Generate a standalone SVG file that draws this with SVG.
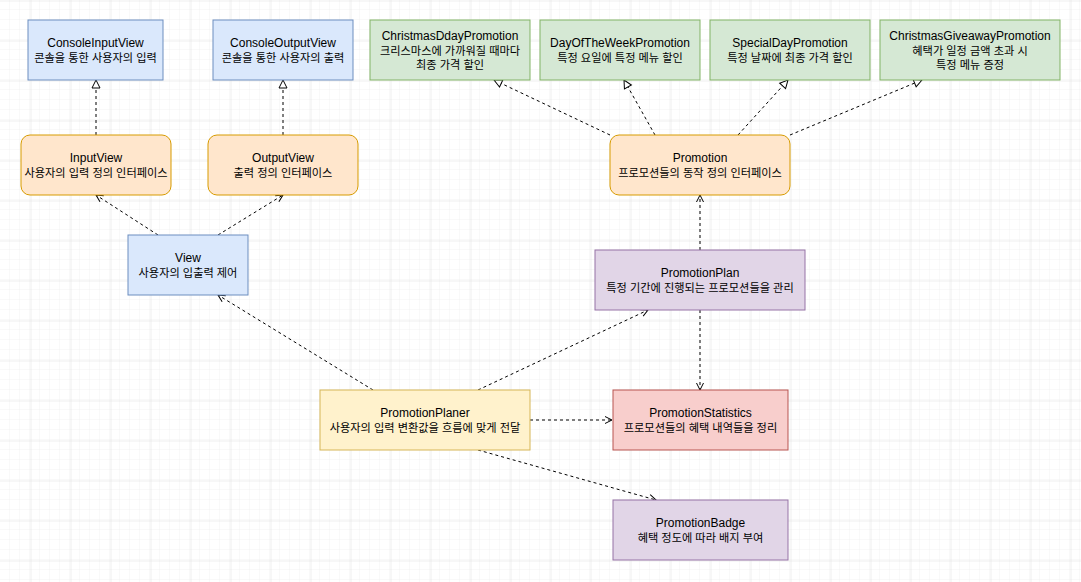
<svg xmlns="http://www.w3.org/2000/svg" width="1081" height="582" viewBox="0 0 1081 582">
  <style>
    .box { stroke-width: 1; }
    .blue { fill: #dae8fc; stroke: #6c8ebf; }
    .orange { fill: #ffe6cc; stroke: #d79b00; }
    .green { fill: #d5e8d4; stroke: #82b366; }
    .purple { fill: #e1d5e7; stroke: #9673a6; }
    .red { fill: #f8cecc; stroke: #b85450; }
    .yellow { fill: #fff2cc; stroke: #d6b656; }
    text { font-family: "Liberation Sans", "Noto Sans CJK KR", sans-serif; font-size: 12px; fill: #000000; text-anchor: middle; }
    text.ko { font-size: 11.2px; }
    .edge { fill: none; stroke: #000000; stroke-width: 1; stroke-dasharray: 3 3; }
    .real { marker-end: url(#tri); }
    .dep { marker-end: url(#open); }
  </style>
  <defs>
    <pattern id="minor" width="10" height="10" patternUnits="userSpaceOnUse">
      <path d="M10,0 V10 M0,10 H10" fill="none" stroke="#f2f2f2" stroke-width="1"/>
    </pattern>
    <pattern id="major" x="30.5" y="0.5" width="40" height="40" patternUnits="userSpaceOnUse">
      <path d="M0,0 V40 M0,0 H40" fill="none" stroke="#dedede" stroke-width="1"/>
    </pattern>
    <marker id="tri" markerUnits="userSpaceOnUse" markerWidth="12" markerHeight="12" viewBox="-1 -6 10 12" refX="8" refY="0" orient="auto">
      <path d="M0,-4 L8,0 L0,4 Z" fill="#ffffff" stroke="#000000" stroke-width="1" stroke-dasharray="none"/>
    </marker>
    <marker id="open" markerUnits="userSpaceOnUse" markerWidth="12" markerHeight="12" viewBox="-1 -6 10 12" refX="7" refY="0" orient="auto">
      <path d="M0,-3.5 L7,0 L0,3.5" fill="none" stroke="#000000" stroke-width="1" stroke-dasharray="none"/>
    </marker>
  </defs>

  <rect x="0" y="0" width="1081" height="582" fill="#ffffff"/>
  <rect x="0" y="0" width="1081" height="582" fill="url(#minor)"/>
  <rect x="0" y="0" width="1081" height="582" fill="url(#major)"/>

  <g id="connectors">
    <path class="edge real" d="M96,135 L96,80"/>
    <path class="edge real" d="M283,135 L283,80"/>
    <path class="edge dep" d="M158,235 L96,195"/>
    <path class="edge dep" d="M218,235 L283,195"/>
    <path class="edge real" d="M610,135 L494,80"/>
    <path class="edge real" d="M655,135 L624,80"/>
    <path class="edge real" d="M738,135 L788,80"/>
    <path class="edge real" d="M790,135 L922,80"/>
    <path class="edge dep" d="M700,250 L700,195"/>
    <path class="edge dep" d="M700,310 L700,390"/>
    <path class="edge dep" d="M478,390 L648,310"/>
    <path class="edge dep" d="M530,420 L612,420"/>
    <path class="edge dep" d="M478,450 L656,500"/>
    <path class="edge dep" d="M373,390 L218,295"/>
  </g>

  <g id="ConsoleInputView">
    <rect class="box blue" x="28" y="20" width="135" height="60"/>
    <text x="95.5" y="47">ConsoleInputView</text>
    <text class="ko" x="95.5" y="62">콘솔을 통한 사용자의 입력</text>
  </g>
  <g id="ConsoleOutputView">
    <rect class="box blue" x="213" y="20" width="140" height="60"/>
    <text x="283" y="47">ConsoleOutputView</text>
    <text class="ko" x="283" y="62">콘솔을 통한 사용자의 출력</text>
  </g>
  <g id="InputView">
    <rect class="box orange" x="21" y="135" width="150" height="60" rx="9" ry="9"/>
    <text x="96" y="162">InputView</text>
    <text class="ko" x="96" y="177">사용자의 입력 정의 인터페이스</text>
  </g>
  <g id="OutputView">
    <rect class="box orange" x="208" y="135" width="150" height="60" rx="9" ry="9"/>
    <text x="283" y="162">OutputView</text>
    <text class="ko" x="283" y="177">출력 정의 인터페이스</text>
  </g>
  <g id="View">
    <rect class="box blue" x="128" y="235" width="120" height="60"/>
    <text x="188" y="262">View</text>
    <text class="ko" x="188" y="277">사용자의 입출력 제어</text>
  </g>
  <g id="ChristmasDdayPromotion">
    <rect class="box green" x="370" y="20" width="160" height="60"/>
    <text x="450" y="40">ChristmasDdayPromotion</text>
    <text class="ko" x="450" y="54.5">크리스마스에 가까워질 때마다</text>
    <text class="ko" x="450" y="69">최종 가격 할인</text>
  </g>
  <g id="DayOfTheWeekPromotion">
    <rect class="box green" x="540" y="20" width="160" height="60"/>
    <text x="620" y="47">DayOfTheWeekPromotion</text>
    <text class="ko" x="620" y="62">특정 요일에 특정 메뉴 할인</text>
  </g>
  <g id="SpecialDayPromotion">
    <rect class="box green" x="710" y="20" width="160" height="60"/>
    <text x="790" y="47">SpecialDayPromotion</text>
    <text class="ko" x="790" y="62">특정 날짜에 최종 가격 할인</text>
  </g>
  <g id="ChristmasGiveawayPromotion">
    <rect class="box green" x="880" y="20" width="180" height="60"/>
    <text x="970" y="40">ChristmasGiveawayPromotion</text>
    <text class="ko" x="970" y="54.5">혜택가 일정 금액 초과 시</text>
    <text class="ko" x="970" y="69">특정 메뉴 증정</text>
  </g>
  <g id="Promotion">
    <rect class="box orange" x="610" y="135" width="180" height="60" rx="9" ry="9"/>
    <text x="700" y="162">Promotion</text>
    <text class="ko" x="700" y="177">프로모션들의 동작 정의 인터페이스</text>
  </g>
  <g id="PromotionPlan">
    <rect class="box purple" x="595" y="250" width="210" height="60"/>
    <text x="700" y="277">PromotionPlan</text>
    <text class="ko" x="700" y="292">특정 기간에 진행되는 프로모션들을 관리</text>
  </g>
  <g id="PromotionPlaner">
    <rect class="box yellow" x="320" y="390" width="210" height="60"/>
    <text x="425" y="417">PromotionPlaner</text>
    <text class="ko" x="425" y="432">사용자의 입력 변환값을 흐름에 맞게 전달</text>
  </g>
  <g id="PromotionStatistics">
    <rect class="box red" x="613" y="390" width="175" height="60"/>
    <text x="700.5" y="417">PromotionStatistics</text>
    <text class="ko" x="700.5" y="432">프로모션들의 혜택 내역들을 정리</text>
  </g>
  <g id="PromotionBadge">
    <rect class="box purple" x="613" y="500" width="175" height="60"/>
    <text x="700.5" y="527">PromotionBadge</text>
    <text class="ko" x="700.5" y="542">혜택 정도에 따라 배지 부여</text>
  </g>
</svg>
